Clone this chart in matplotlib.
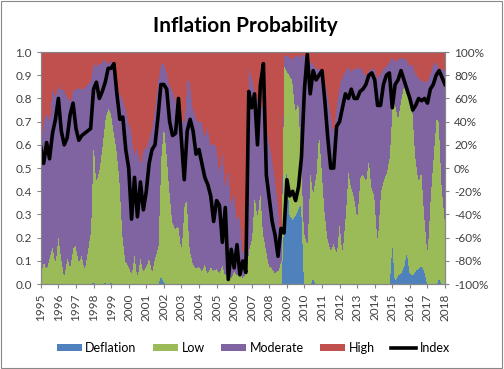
import numpy as np
import pandas as pd
import matplotlib
matplotlib.use("Agg")
from matplotlib import pyplot as plt
from matplotlib import dates as mdates
from matplotlib.patches import Patch, Rectangle
from matplotlib.lines import Line2D

plt.rcParams['font.family'] = ['Lato', 'DejaVu Sans']

# one reading every two months, Jan 1995 .. Jan 2018
dates = pd.date_range("1995-01-01", "2018-01-01", freq="2MS")

# probabilities, as the upper edge of each stacked band
deflation = [
    0, 0, 0, 0, 0, 0,
    0, 0, 0, 0, 0, 0,
    0, 0, 0, 0, 0, 0,
    0.01, 0, 0, 0, 0.01, 0,
    0.01, 0, 0, 0, 0, 0,
    0, 0, 0, 0, 0, 0,
    0, 0, 0, 0, 0, 0.04,
    0.01, 0, 0, 0, 0, 0,
    0, 0, 0, 0, 0, 0,
    0, 0, 0, 0, 0, 0,
    0, 0, 0, 0, 0, 0,
    0, 0, 0, 0, 0, 0,
    0, 0, 0, 0, 0, 0,
    0, 0, 0, 0, 0, 0.30,
    0.55, 0.30, 0.28, 0.30, 0.33, 0.35,
    0, 0, 0, 0.03, 0, 0,
    0, 0, 0, 0, 0, 0,
    0, 0, 0, 0, 0, 0,
    0, 0, 0, 0, 0, 0,
    0, 0, 0, 0, 0, 0,
    0.20, 0.02, 0.04, 0.05, 0.08, 0.15,
    0.05, 0.04, 0.06, 0.07, 0.08, 0.06,
    0, 0, 0, 0, 0.03, 0,
    0,
]
low_top = [
    0.05, 0.10, 0.07, 0.12, 0.17, 0.10,
    0.22, 0.12, 0.04, 0.12, 0.08, 0.16,
    0.17, 0.10, 0.13, 0.07, 0.15, 0.23,
    0.66, 0.45, 0.50, 0.60, 0.72, 0.76,
    0.74, 0.66, 0.58, 0.45, 0.21, 0.10,
    0.08, 0.05, 0.14, 0.04, 0.12, 0.06,
    0.08, 0.12, 0.06, 0.12, 0.16, 0.55,
    0.70, 0.58, 0.41, 0.27, 0.24, 0.26,
    0.16, 0.35, 0.36, 0.15, 0.09, 0.07,
    0.08, 0.06, 0.09, 0.05, 0.08, 0.06,
    0.07, 0.05, 0.09, 0.04, 0.07, 0.03,
    0.06, 0.04, 0.08, 0.03, 0.05, 0.15,
    0.20, 0.40, 0.30, 0.42, 0.22, 0.15,
    0.08, 0.07, 0.05, 0.06, 0.10, 0.95,
    0.92, 0.90, 0.88, 0.75, 0.80, 0.55,
    0.22, 0.18, 0.50, 0.40, 0.48, 0.68,
    0.50, 0.32, 0.20, 0.15, 0.18, 0.14,
    0.28, 0.15, 0.30, 0.50, 0.42, 0.38,
    0.30, 0.46, 0.48, 0.45, 0.55, 0.42,
    0.38, 0.20, 0.40, 0.45, 0.48, 0.55,
    0.78, 0.78, 0.72, 0.80, 0.86, 0.82,
    0.82, 0.75, 0.55, 0.45, 0.50, 0.30,
    0.15, 0.38, 0.55, 0.72, 0.70, 0.42,
    0.28,
]
moderate_top = [
    0.61, 0.71, 0.74, 0.71, 0.86, 0.81,
    0.86, 0.84, 0.84, 0.81, 0.79, 0.84,
    0.84, 0.85, 0.84, 0.85, 0.86, 0.88,
    0.96, 0.94, 0.95, 0.96, 0.97, 0.95,
    0.97, 0.94, 0.89, 0.82, 0.80, 0.76,
    0.70, 0.66, 0.56, 0.60, 0.52, 0.58,
    0.59, 0.63, 0.68, 0.77, 0.88, 0.95,
    0.95, 0.92, 0.86, 0.84, 0.80, 0.70,
    0.72, 0.70, 0.89, 0.87, 0.76, 0.72,
    0.70, 0.70, 0.64, 0.68, 0.60, 0.60,
    0.60, 0.49, 0.60, 0.43, 0.52, 0.35,
    0.41, 0.28, 0.30, 0.14, 0.17, 0.94,
    0.90, 0.84, 0.80, 0.76, 0.78, 0.70,
    0.61, 0.55, 0.46, 0.35, 0.20, 0.98,
    0.99, 0.98, 0.97, 0.99, 0.98, 0.99,
    0.99, 0.97, 0.96, 0.95, 0.93, 0.93,
    0.92, 0.88, 0.82, 0.74, 0.66, 0.78,
    0.86, 0.90, 0.92, 0.94, 0.92, 0.93,
    0.93, 0.94, 0.92, 0.90, 0.92, 0.93,
    0.93, 0.89, 0.91, 0.93, 0.94, 0.96,
    0.98, 0.96, 0.97, 0.98, 0.97, 0.97,
    0.94, 0.95, 0.91, 0.89, 0.88, 0.87,
    0.88, 0.91, 0.95, 0.96, 0.93, 0.93,
    0.92,
]
# index in percent, right axis
index_pct = [
    18, 4, 22, 8, 30, 42,
    60, 32, 20, 26, 46, 56,
    34, 24, 28, 30, 32, 34,
    68, 74, 60, 66, 74, 86,
    86, 90, 64, 42, 44, 16,
    0, -44, -8, -42, -12, -36,
    -20, 4, 16, 20, 44, 72,
    72, 68, 40, 28, 30, 60,
    24, -10, 32, 42, 32, 12,
    16, 4, -8, -14, -24, -46,
    -28, -32, -64, -34, -96, -70,
    -86, -66, -92, -80, -90, 66,
    52, 64, 20, 72, 90, -6,
    -26, -46, -58, -76, -52, -56,
    -10, -24, -20, -28, -16, 10,
    68, 98, 64, 84, 76, 80,
    84, 58, 26, 0, 0, 36,
    40, 52, 64, 60, 68, 60,
    60, 66, 68, 72, 80, 82,
    76, 54, 54, 72, 80, 82,
    52, 72, 76, 84, 76, 68,
    60, 50, 54, 60, 58, 60,
    56, 68, 72, 80, 84, 78,
    72,
]

labels = ["Deflation", "Low", "Moderate", "High"]
colors = ["#4F81BD", "#9BBB59", "#8064A2", "#C0504D"]

# band thicknesses for the stack
edges = np.vstack([np.zeros(len(dates)), deflation, low_top, moderate_top, np.ones(len(dates))])
bands = np.diff(edges, axis=0)

fig = plt.figure(figsize=(5.04, 3.69), dpi=100)
ax = fig.add_axes([0.081, 0.230, 0.802, 0.629])

ax.stackplot(dates, bands, colors=colors, linewidth=0, antialiased=False)
ax.set_ylim(0, 1)
ax.set_xlim(dates[0], dates[-1])
ax.set_yticks(np.arange(0, 1.01, 0.1))
ax.yaxis.set_major_formatter(plt.FormatStrFormatter('%.1f'))
ax.xaxis.set_major_locator(mdates.YearLocator())
ax.xaxis.set_major_formatter(mdates.DateFormatter('%Y'))
plt.setp(ax.get_xticklabels(), rotation=90)

ax2 = ax.twinx()
ax2.plot(dates, index_pct, color="black", linewidth=2.6, solid_joinstyle="round")
ax2.set_ylim(-100, 100)
ax2.set_yticks(np.arange(-100, 101, 20))
ax2.yaxis.set_major_formatter(plt.FuncFormatter(lambda v, p: f"{v:.0f}%"))

for a in (ax, ax2):
    a.tick_params(labelsize=8.5, length=3, color="#868686", labelcolor="#404040")
    for s in a.spines.values():
        s.set_color("#868686")
        s.set_linewidth(0.8)

fig.text(0.487, 0.93, "Inflation Probability", ha="center", va="center",
         fontsize=15, fontweight="bold")

handles = [Patch(facecolor=c, label=l) for c, l in zip(colors, labels)]
handles.append(Line2D([0], [0], color="black", linewidth=2.6, label="Index"))
fig.legend(handles=handles, loc="center", bbox_to_anchor=(0.503, 0.057), ncol=5,
           frameon=False, fontsize=9, handlelength=2.0, handleheight=0.5,
           columnspacing=1.3, handletextpad=0.3)

# chart border
fig.patches.append(Rectangle((0.002, 0.003), 0.995, 0.994, transform=fig.transFigure,
                             fill=False, edgecolor="#888888", linewidth=0.8))

fig.savefig("out.png", dpi=100)
